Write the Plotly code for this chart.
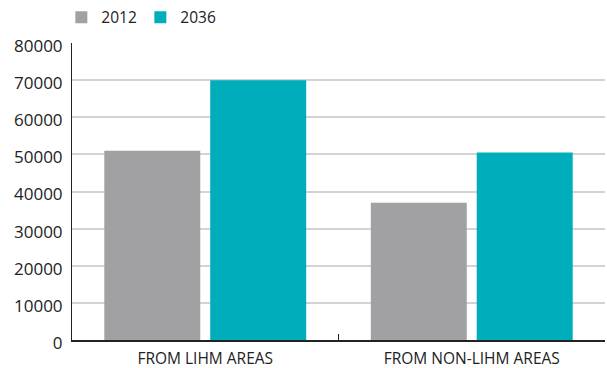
import plotly.graph_objects as go

# 数据
categories = ['FROM LIHM AREAS', 'FROM NON-LIHM AREAS']
values_2012 = [51000, 37000]
values_2036 = [70000, 50500]
y_ticks = [0, 10000, 20000, 30000, 40000, 50000, 60000, 70000, 80000]

fig = go.Figure()
fig.add_trace(go.Bar(x=categories, y=values_2012, name='2012', marker=dict(color='#a1a1a3', line=dict(width=0))))
fig.add_trace(go.Bar(x=categories, y=values_2036, name='2036', marker=dict(color='#00adbb', line=dict(width=0))))

fig.update_layout(
    width=607, height=368,
    margin=dict(l=72, r=2, t=43, b=28, autoexpand=False),
    paper_bgcolor='white', plot_bgcolor='white',
    font=dict(family='Open Sans, sans-serif', color='#222222', size=14),
    barmode='group', bargap=0.205, bargroupgap=0.094,
    legend=dict(orientation='h', x=-0.02, y=1.085, xanchor='left', yanchor='middle',
                font=dict(size=15.5), itemwidth=30, entrywidth=34, entrywidthmode='pixels',
                traceorder='normal'),
    showlegend=True,
)
fig.update_xaxes(
    automargin=False,
    showline=True, linecolor='#222222', linewidth=2,
    ticks='inside', tickson='boundaries', ticklen=6, tickcolor='#222222', tickwidth=1,
    tickfont=dict(size=15.5), ticklabelstandoff=3, showgrid=False,
)
fig.update_yaxes(
    automargin=False,
    range=[0, 80000], tickvals=y_ticks, ticktext=[str(v) for v in y_ticks],
    showline=True, linecolor='#222222', linewidth=1,
    showgrid=True, gridcolor='#d3d3d3', gridwidth=1.5,
    zeroline=False, ticks='', ticklabelstandoff=5, ticklabelshift=3, tickfont=dict(size=17),
)

# 去掉页面默认边距和工具栏
fig.write_html("out.html", config={'displayModeBar': False},
               post_script="document.body.style.margin='0';")
